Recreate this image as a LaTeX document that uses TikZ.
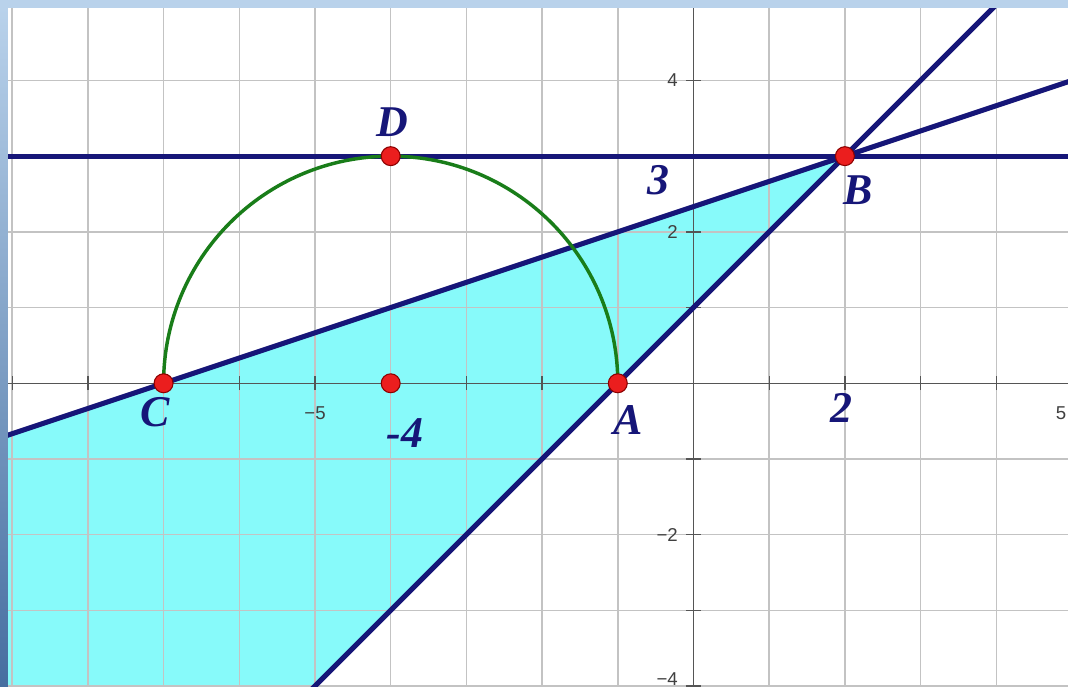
\documentclass[tikz,border=0pt]{standalone}
\usepackage{fontspec}
\setmainfont{Liberation Serif}
\setsansfont{Liberation Sans}
\definecolor{navyc}{RGB}{22,22,120}
\definecolor{ptred}{RGB}{235,30,30}
\definecolor{ptdark}{RGB}{140,0,0}
\definecolor{cyanf}{RGB}{135,250,250}
\definecolor{gridc}{RGB}{195,195,195}
\definecolor{axc}{RGB}{85,85,85}
\definecolor{greenc}{RGB}{25,125,25}
\definecolor{bgblue}{RGB}{185,210,235}
\definecolor{bgdark}{RGB}{70,110,160}
\begin{document}
\begin{tikzpicture}[x=1cm,y=1cm,
  lbl/.style={font=\fontsize{16.5}{18}\selectfont\bfseries\itshape, text=navyc, inner sep=0},
  ticklbl/.style={font=\sffamily\fontsize{7}{8}\selectfont, text=black!75, inner sep=0},
  pt/.style={circle, fill=ptred, draw=ptdark, line width=0.4pt, inner sep=0, minimum size=0.25cm},
  bline/.style={draw=navyc, line width=1.9pt},
  gline/.style={draw=greenc, line width=1.3pt},
  gridline/.style={draw=gridc, line width=0.55pt},
  axis/.style={draw=axc, line width=0.5pt}
]
\useasboundingbox (-9.161,-4.012) rectangle (4.947,5.063);
% screenshot background strips
\fill[bgblue] (-9.161,4.957) rectangle (4.947,5.063);
\shade[top color=bgblue, bottom color=bgdark] (-9.161,-4.012) rectangle (-9.055,4.957);
\fill[white] (-9.055,-4.012) rectangle (4.947,4.957);

\begin{scope}
\clip (-9.055,-4.012) rectangle (4.947,4.957);
% feasible region
\coordinate (R1) at (2,3);
\coordinate (R2) at (-8,-7);
\coordinate (R3) at (-12,-7);
\coordinate (R4) at (-12,-1.6667);
\fill[cyanf] (R1) -- (R2) -- (R3) -- (R4) -- cycle;
% grid
\draw[gridline] (-10,-5) grid (6,6);
% axes
\coordinate (XL) at (-10,0); \coordinate (XR) at (6,0);
\coordinate (YB) at (0,-5); \coordinate (YT) at (0,6);
\draw[axis] (XL) -- (XR);
\draw[axis] (YB) -- (YT);
\foreach \i in {-9,...,5} { \draw[axis] (\i,-0.09) -- (\i,0.09); }
\foreach \j in {-4,...,5} { \draw[axis] (-0.1,\j) -- (0.1,\j); }
% points
\coordinate (Ac) at (-1,0);
% lines
\coordinate (H1) at (-10,3); \coordinate (H2) at (6,3);
\draw[bline] (H1) -- (H2);
\coordinate (L1) at (-6,-5); \coordinate (L2) at (5,6);
\draw[bline] (L1) -- (L2);
\coordinate (M1) at (-10,-1); \coordinate (M2) at (6,4.3333);
\draw[bline] (M1) -- (M2);
% semicircle
\draw[gline] (Ac) arc[start angle=0, end angle=180, radius=3];
\end{scope}

% tick labels
\node[ticklbl, anchor=east] (t4) at (-0.2,4) {4};
\node[ticklbl, anchor=east] (t2) at (-0.2,2) {2};
\node[ticklbl, anchor=east] (tm2) at (-0.2,-2) {−2};
\node[ticklbl, anchor=south east] (tm4) at (-0.2,-3.995) {−4};
\node[ticklbl, anchor=north] (tm5) at (-5,-0.3) {−5};
\node[ticklbl, anchor=north east] (t5) at (4.93,-0.3) {5};

\node[pt] (C) at (-7,0) {};
\node[pt] (A) at (-1,0) {};
\node[pt] (D) at (-4,3) {};
\node[pt] (B) at (2,3) {};
\node[pt] (P) at (-4,0) {};

\node[lbl] (lD) at (-3.983,3.452) {D};
\node[lbl] (lB) at (2.173,2.553) {B};
\node[lbl] (l3) at (-0.469,2.684) {3};
\node[lbl] (lC) at (-7.114,-0.379) {C};
\node[lbl] (lm4) at (-3.811,-0.659) {-4};
\node[lbl] (lA) at (-0.866,-0.484) {A};
\node[lbl] (l2) at (1.96,-0.328) {2};
\end{tikzpicture}
\end{document}
